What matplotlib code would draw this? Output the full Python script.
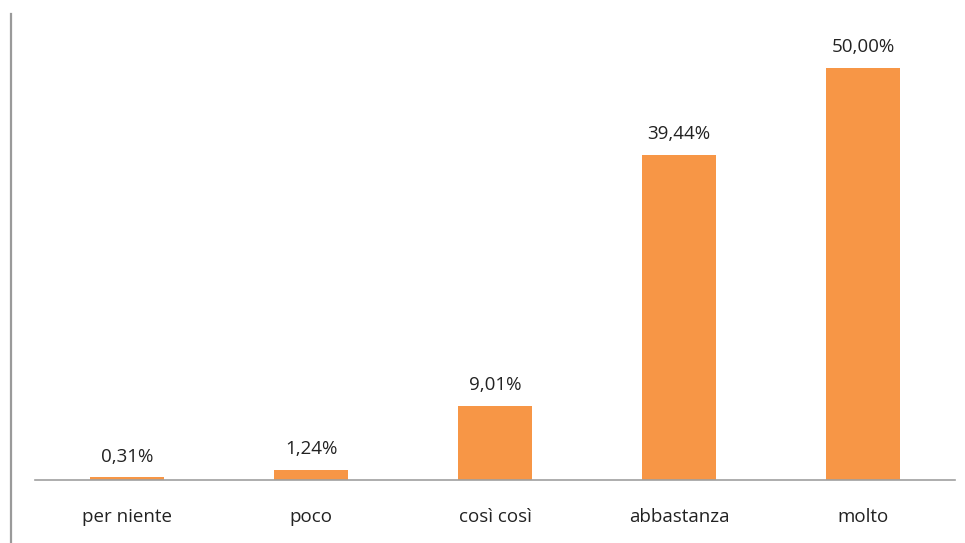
import matplotlib
matplotlib.use("Agg")
import matplotlib.pyplot as plt
from matplotlib.lines import Line2D

categories = ["per niente", "poco", "così così", "abbastanza", "molto"]
values = [0.31, 1.24, 9.01, 39.44, 50.00]
value_labels = ["0,31%", "1,24%", "9,01%", "39,44%", "50,00%"]

W, H = 965, 543
fig = plt.figure(figsize=(W / 100, H / 100), dpi=100)
fig.patch.set_facecolor("white")

left, right, bottom, top = 35, 955, 480, 14
ax = fig.add_axes([left / W, 1 - bottom / H, (right - left) / W, (bottom - top) / H])

x = range(len(categories))
ax.bar(x, values, width=0.4, color="#F79646", edgecolor="none", zorder=2)
ax.set_xlim(-0.5, len(categories) - 0.5)
ax.set_ylim(0, (bottom - top) / 8.24)

for xi, v, lab in zip(x, values, value_labels):
    ax.annotate(lab, (xi, v), xytext=(0, 8.5), textcoords="offset points",
                ha="center", va="bottom", fontsize=13.5, color="#222222",
                family="Open Sans")

ax.set_xticks(list(x))
ax.set_xticklabels(categories, fontsize=13.5, color="#222222", family="Open Sans")
ax.tick_params(axis="x", length=0, pad=20)
ax.set_yticks([])
for s in ["top", "right", "left"]:
    ax.spines[s].set_visible(False)
ax.spines["bottom"].set_color("#A0A0A0")
ax.spines["bottom"].set_linewidth(1.2)

# vertical rule at the left edge
fig.add_artist(Line2D([11 / W, 11 / W], [0, 1 - 14 / H], transform=fig.transFigure,
                      color="#9A9A9A", linewidth=1.6))

fig.savefig("out.png", dpi=100)
